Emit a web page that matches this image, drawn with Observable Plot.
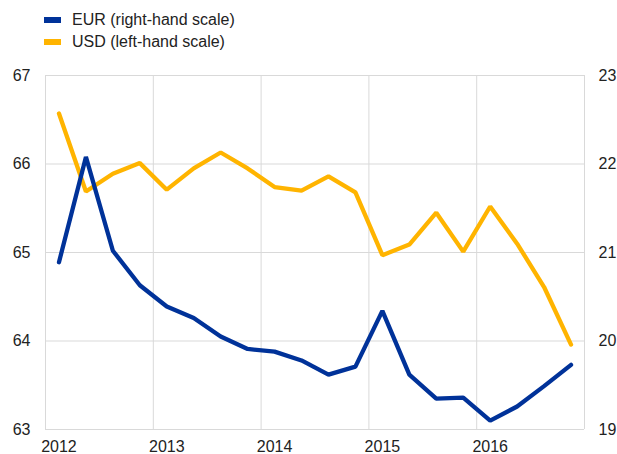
<!DOCTYPE html>
<html>
<head>
<meta charset="utf-8">
<script src="https://cdn.jsdelivr.net/npm/d3@7"></script>
<script src="https://cdn.jsdelivr.net/npm/@observablehq/plot@0.6"></script>
<style>
  html, body { margin: 0; padding: 0; background: #fff; }
  body { width: 617px; height: 454px; overflow: hidden; font-family: "Liberation Sans", Arial, sans-serif; color: #222; }
  #legend { position: relative; height: 56px; font-size: 16px; }
  .item { position: absolute; left: 44px; display: flex; align-items: center; height: 18px; }
  .sw { width: 17px; height: 6px; margin-right: 11px; }
</style>
</head>
<body>
<div id="legend"></div>
<div id="chart"></div>
<script>
// Quarterly observations, 2012 Q1 – 2016 Q4
const years = [2012, 2012, 2012, 2012, 2013, 2013, 2013, 2013, 2014, 2014, 2014, 2014, 2015, 2015, 2015, 2015, 2016, 2016, 2016, 2016];
const quarters = [1, 2, 3, 4, 1, 2, 3, 4, 1, 2, 3, 4, 1, 2, 3, 4, 1, 2, 3, 4];
// USD (left-hand scale)
const usd = [66.57, 65.69, 65.89, 66.01, 65.71, 65.95, 66.13, 65.95, 65.74, 65.70, 65.86, 65.68, 64.97, 65.09, 65.45, 65.01, 65.52, 65.10, 64.61, 63.96];
// EUR (right-hand scale)
const eur = [20.89, 22.08, 21.02, 20.63, 20.39, 20.26, 20.05, 19.91, 19.88, 19.78, 19.62, 19.71, 20.34, 19.62, 19.35, 19.36, 19.10, 19.26, 19.49, 19.73];

const leftTicks = [63, 64, 65, 66, 67];
const rightTicks = [19, 20, 21, 22, 23];
const yearTicks = [2012, 2013, 2014, 2015, 2016];
const seriesNames = ["EUR (right-hand scale)", "USD (left-hand scale)"];
const colors = ["#003299", "#ffb400"];

// right scale mapped onto the left scale (same 4-unit span)
const offset = leftTicks[0] - rightTicks[0];

const xPos = (i) => years[i] + (quarters[i] - 0.5) / 4;
const usdData = usd.map((v, i) => ({x: xPos(i), v}));
const eurData = eur.map((v, i) => ({x: xPos(i), v}));

// legend
const legend = document.getElementById("legend");
seriesNames.forEach((name, i) => {
  const it = document.createElement("div");
  it.className = "item";
  it.style.top = (11 + i * 22) + "px";
  it.innerHTML = `<div class="sw" style="background:${colors[i]}"></div><span>${name}</span>`;
  legend.appendChild(it);
});

const chart = Plot.plot({
  width: 617,
  height: 398,
  marginTop: 19,
  marginBottom: 25,
  marginLeft: 45,
  marginRight: 33,
  style: {fontFamily: '"Liberation Sans", Arial, sans-serif', fontSize: "16px", color: "#222", background: "#fff"},
  x: {type: "linear", domain: [2012, 2017]},
  y: {domain: [63, 67]},
  marks: [
    Plot.gridY(leftTicks, {stroke: "#d9d9d9", strokeOpacity: 1, strokeWidth: 1}),
    Plot.gridX([...yearTicks, 2017], {stroke: "#d9d9d9", strokeOpacity: 1, strokeWidth: 1}),
    Plot.axisY(leftTicks, {anchor: "left", tickSize: 0, tickPadding: 15, tickFormat: d => String(d), label: null}),
    Plot.axisY(rightTicks.map(d => d + offset), {anchor: "right", tickSize: 0, tickPadding: 14, tickFormat: d => String(d - offset), label: null}),
    Plot.axisX(yearTicks.map(d => d + 0.125), {anchor: "bottom", tickSize: 0, tickPadding: 11, tickFormat: d => String(Math.floor(d)), label: null}),
    Plot.line(usdData, {x: "x", y: "v", stroke: colors[1], strokeWidth: 4.3, strokeLinejoin: "miter", strokeLinecap: "round"}),
    Plot.line(eurData, {x: "x", y: d => d.v + offset, stroke: colors[0], strokeWidth: 4.3, strokeLinejoin: "miter", strokeLinecap: "round"})
  ]
});
document.getElementById("chart").appendChild(chart);
</script>
</body>
</html>
